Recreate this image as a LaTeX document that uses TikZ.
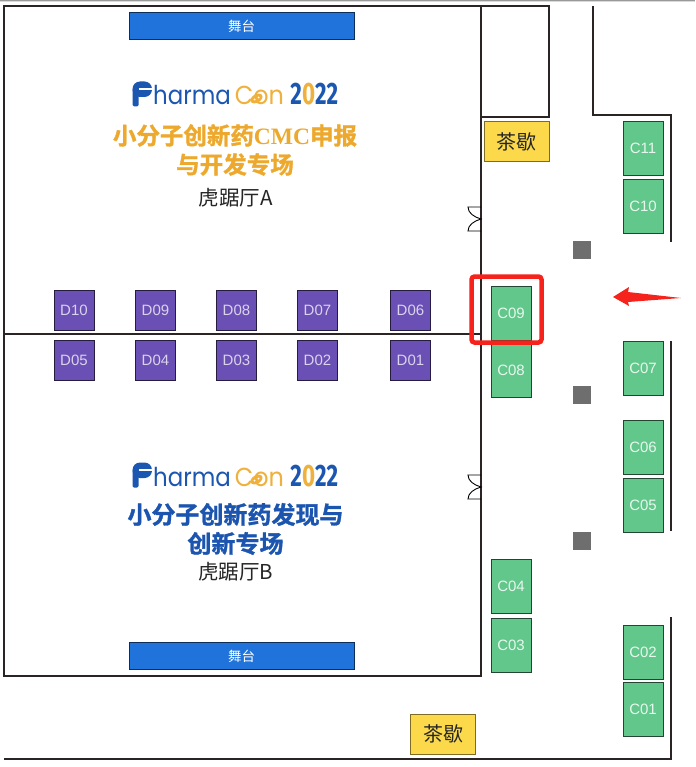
\documentclass[tikz,border=0pt]{standalone}
\usepackage{graphicx}
\usepackage{fontspec}
\setmainfont{Liberation Sans}
\newfontfamily\cjk{Noto Sans CJK SC}
\newfontfamily\cjkh[BoldFont=*,BoldFeatures={FakeBold=1.5}]{Noto Sans CJK SC Bold}
\newfontfamily\serifb{Liberation Serif}
\newfontfamily\logof{Poppins}
\newfontfamily\logob{Fira Sans}
\definecolor{wall}{HTML}{2B2424}
\definecolor{boothC}{HTML}{62C78B}
\definecolor{boothD}{HTML}{6A4FB5}
\definecolor{stageblue}{HTML}{1F73DB}
\definecolor{teay}{HTML}{FBD94A}
\definecolor{logoblue}{HTML}{1B57B0}
\definecolor{logoor}{HTML}{F0B13C}
\definecolor{titleor}{HTML}{EDA92E}
\definecolor{titlebl}{HTML}{1B55AF}
\definecolor{pillar}{HTML}{6E6E6E}
\definecolor{redm}{HTML}{F5231B}
\tikzset{
 x=1pt,y=-1pt,
 wallline/.style={draw=wall,line width=1.8pt,line join=miter},
 cbooth/.style={draw=black!65!boothC,fill=boothC,line width=0.8pt,minimum width=40pt,minimum height=54pt,text=white!85!boothC,inner sep=0pt,font=\fontsize{15}{15}\selectfont},
 dbooth/.style={draw=black!65!boothD,fill=boothD,line width=0.8pt,minimum width=40pt,minimum height=40pt,text=white!75!boothD,inner sep=0pt,font=\fontsize{15}{15}\selectfont},
 stagebox/.style={draw=black!60!stageblue,fill=stageblue,line width=0.8pt,minimum width=225pt,minimum height=27pt,text=white,inner sep=0pt,font=\cjk\fontsize{13.5}{14}\selectfont},
 teabox/.style={draw=black!50!teay,fill=teay,line width=0.8pt,minimum width=65pt,minimum height=40pt,inner sep=0pt,text=black!85,font=\cjk\fontsize{20}{20}\selectfont},
 pillarbox/.style={fill=pillar,minimum size=18pt,inner sep=0pt},
 titleA/.style={text=titleor,align=center,inner sep=0pt,font=\cjkh\bfseries\fontsize{23.5}{29}\selectfont},
 titleB/.style={text=titlebl,align=center,inner sep=0pt,font=\cjkh\bfseries\fontsize{24}{29}\selectfont},
 hallname/.style={text=black!85,inner sep=0pt,font=\cjk\fontsize{20.5}{20}\selectfont},
 doorline/.style={draw=black,line width=0.9pt},
 logonode/.style={inner sep=0pt,anchor=base west},
}
\newcommand{\logoword}{\scalebox{0.88}[1]{\logof\fontsize{26}{26}\selectfont\textcolor{logoblue}{harma}}\hspace{4pt}\scalebox{0.92}[1]{\logof\fontsize{26}{26}\selectfont\textcolor{logoor}{Con}}\hspace{6.5pt}\scalebox{0.72}[1]{\logob\bfseries\fontsize{31}{31}\selectfont\textcolor{logoblue}{2}\textcolor{logoor}{0}\textcolor{logoblue}{22}}}
\newcommand{\logomark}[1]{%
 \fill[logoblue,rounded corners=7.5pt] (132.5,#1+81.5) rectangle (152,#1+97);
 \fill[logoblue,rounded corners=1.5pt] (132.5,#1+88) rectangle (138.5,#1+106.5);
 \fill[white] (138.5,#1+88.3) rectangle (153,#1+90.2);
 \fill[logoor,rotate around={30:(256.5,#1+98.5)}] (256.5,#1+98.5) ellipse [x radius=6.5,y radius=4.2];
 \fill[white] (254.5,#1+99.5) circle [radius=1];
 \fill[white] (258.5,#1+97.5) circle [radius=1];}
\newcommand{\doorsym}[2]{%
 \draw[doorline] (#1,#2) -- (#1-13,#2) .. controls (#1-13,#2+6) and (#1-7,#2+10) .. (#1,#2+12) .. controls (#1-7,#2+14) and (#1-13,#2+18) .. (#1-13,#2+24) -- (#1,#2+24);}
\begin{document}
\begin{tikzpicture}
\useasboundingbox (0,0) rectangle (695,767);
\fill[white] (0,0) rectangle (695,767);
\fill[black!15] (0,0) rectangle (695,2.5);
\fill[black!40] (0,0) rectangle (695,1.2);
% walls
\draw[wallline] (4,6) rectangle (481,676);
\draw[wallline] (4,334) -- (481,334);
\draw[wallline] (481,6) -- (549,6) -- (549,117) -- (481,117);
\draw[wallline] (593,6) -- (593,115) -- (671,115) -- (671,242);
\draw[wallline] (671,341) -- (671,531);
\draw[wallline] (4,759) -- (671,759) -- (671,617);
% doors
\doorsym{481}{207}
\doorsym{481}{475}
% stages
\node[stagebox] (stageA) at (241.5,26) {舞台};
\node[stagebox] (stageB) at (241.5,656) {舞台};
% logos
\node[logonode] (logoA) at (153,105) {\logoword};
\node[logonode] (logoB) at (153,486) {\logoword};
\logomark{0}
\logomark{381}
% titles
\node[titleA] (titleAn) at (235,150) {小分子创新药{\serifb\bfseries CMC}申报\\与开发专场};
\node[hallname] (hallA) at (235.5,198) {虎踞厅A};
\node[titleB] (titleBn) at (235.5,529) {小分子创新药发现与\\创新专场};
\node[hallname] (hallB) at (235.5,572) {虎踞厅B};
% D booths
\node[dbooth] (D10) at (74,310.5) {D10};
\node[dbooth] (D09) at (155.5,310.5) {D09};
\node[dbooth] (D08) at (236.5,310.5) {D08};
\node[dbooth] (D07) at (317.5,310.5) {D07};
\node[dbooth] (D06) at (410.5,310.5) {D06};
\node[dbooth] (D05) at (74,360) {D05};
\node[dbooth] (D04) at (155.5,360) {D04};
\node[dbooth] (D03) at (236.5,360) {D03};
\node[dbooth] (D02) at (317.5,360) {D02};
\node[dbooth] (D01) at (410.5,360) {D01};
% C booths
\node[cbooth] (C11) at (643,148) {C11};
\node[cbooth] (C10) at (643,206) {C10};
\node[cbooth] (C09) at (511,313) {C09};
\node[cbooth] (C08) at (511,370) {C08};
\node[cbooth] (C07) at (643,368) {C07};
\node[cbooth] (C06) at (643,447) {C06};
\node[cbooth] (C05) at (643,505) {C05};
\node[cbooth] (C04) at (511,586) {C04};
\node[cbooth] (C03) at (511,645) {C03};
\node[cbooth] (C02) at (643,652) {C02};
\node[cbooth] (C01) at (643,709) {C01};
% tea
\node[teabox] (tea1) at (516.5,141.5) {茶歇};
\node[teabox] (tea2) at (443,734) {茶歇};
% pillars
\node[pillarbox] (p1) at (582,250) {};
\node[pillarbox] (p2) at (582,395) {};
\node[pillarbox] (p3) at (582,541) {};
% highlight
\draw[redm,line width=4.5pt,rounded corners=3pt] (471.5,276.5) rectangle (541.5,342.5);
% arrow
\fill[redm] (613,297) -- (629,287) -- (628,292) -- (681,298) -- (628,302) -- (629,306) -- cycle;
\end{tikzpicture}
\end{document}
